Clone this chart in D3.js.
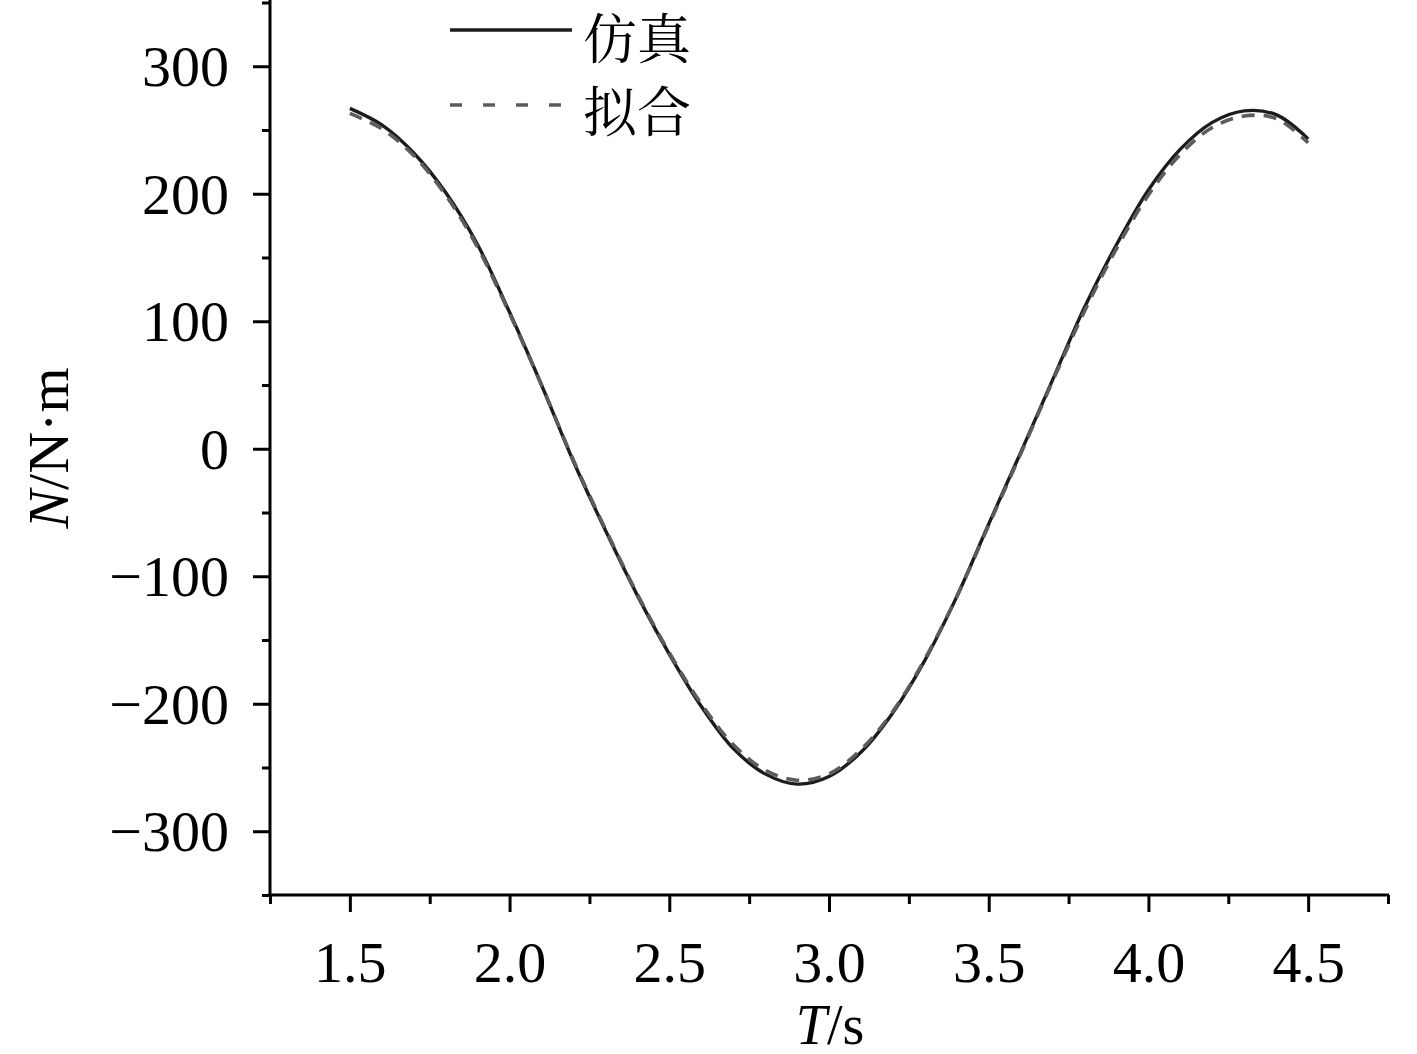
<!DOCTYPE html>
<html><head><meta charset="utf-8">
<script src="https://cdn.jsdelivr.net/npm/d3@7"></script>
<style>body{margin:0;background:#fff}svg{display:block}</style>
</head><body><svg id="c" width="1417" height="1054"></svg>
<script>
const times = [1.5,1.6,1.7,1.8,1.9,2.0,2.1,2.2,2.3,2.4,2.5,2.6,2.7,2.8,2.9,3.0,3.1,3.2,3.3,3.4,3.5,3.6,3.7,3.8,3.9,4.0,4.1,4.2,4.3,4.4,4.5];
const simValues = [267,254,232,201,160,107,50,-10,-64,-115,-161,-202,-235,-255,-263,-257,-238,-207,-166,-116,-59,-3,54,111,160,203,235,256,265,262,243];
const fitValues = [263,251,230,199,158,106,50,-9,-63,-114,-160,-200,-232,-252,-260,-255,-236,-206,-165,-116,-60,-4,53,108,157,199,231,252,261,259,240];
const xTicks = [1.5,2.0,2.5,3.0,3.5,4.0,4.5];
const xMinor = [1.25,1.75,2.25,2.75,3.25,3.75,4.25,4.75];
const yTicks = [-300,-200,-100,0,100,200,300];
const yMinor = [-350,-250,-150,-50,50,150,250,350];
const legendLabels = ["仿真","拟合"];

const svg = d3.select("#c");
const x = d3.scaleLinear().domain([1.25,4.75]).range([270,1388]);
const y = d3.scaleLinear().domain([-350,350]).range([895,2.5]);
const serif = "'Liberation Serif','Times New Roman',serif";

// y axis minor
svg.append("g").attr("transform","translate(270,0)")
  .call(d3.axisLeft(y).tickValues(yMinor).tickSize(8).tickFormat(""))
  .call(g=>{g.select(".domain").remove();g.selectAll("line").attr("stroke","#000").attr("stroke-width",3);});
// y axis major
const ya = svg.append("g").attr("transform","translate(270,0)")
  .call(d3.axisLeft(y).tickValues(yTicks).tickSize(17).tickPadding(24).tickFormat(d3.format("d")));
ya.select(".domain").remove();
ya.selectAll("line").attr("stroke","#000").attr("stroke-width",3);
ya.selectAll("text").attr("font-family",serif).attr("font-size",58).attr("fill","#000").attr("dy","0.34em");

// x axis minor
svg.append("g").attr("transform","translate(0,895)")
  .call(d3.axisBottom(x).tickValues(xMinor).tickSize(9).tickFormat(""))
  .call(g=>{g.select(".domain").remove();g.selectAll("line").attr("stroke","#000").attr("stroke-width",3);});
const xa = svg.append("g").attr("transform","translate(0,895)")
  .call(d3.axisBottom(x).tickValues(xTicks).tickSize(17).tickFormat(d3.format(".1f")));
xa.select(".domain").remove();
xa.selectAll("line").attr("stroke","#000").attr("stroke-width",3);
xa.selectAll("text").attr("font-family",serif).attr("font-size",58).attr("fill","#000").attr("y",87).attr("dy",0);

// axis lines
svg.append("line").attr("x1",270).attr("x2",270).attr("y1",0).attr("y2",896.5).attr("stroke","#000").attr("stroke-width",3);
svg.append("line").attr("x1",268.5).attr("x2",1389).attr("y1",895).attr("y2",895).attr("stroke","#000").attr("stroke-width",3);

// lines
const line = d3.line().x(d=>x(d[0])).y(d=>y(d[1])).curve(d3.curveCatmullRom.alpha(0.5));
svg.append("path").datum(times.map((t,i)=>[t,simValues[i]]))
  .attr("d",line).attr("fill","none").attr("stroke","#1c1c1c").attr("stroke-width",3.4);
svg.append("path").datum(times.map((t,i)=>[t,fitValues[i]]))
  .attr("d",line).attr("fill","none").attr("stroke","#5c5c5c").attr("stroke-width",3.6).attr("stroke-dasharray","13,9");

// legend
const lg = svg.append("g");
lg.append("line").attr("x1",450).attr("x2",572).attr("y1",30).attr("y2",30).attr("stroke","#1c1c1c").attr("stroke-width",3.4);
lg.append("line").attr("x1",450).attr("x2",572).attr("y1",105).attr("y2",105).attr("stroke","#5c5c5c").attr("stroke-width",3.6).attr("stroke-dasharray","12,21");
lg.selectAll("text").data(legendLabels).join("text")
  .attr("x",583).attr("y",(d,i)=>35+i*73).attr("dominant-baseline","central")
  .attr("font-family","'Noto Serif CJK SC','Noto Sans CJK SC',sans-serif").attr("font-size",54).attr("fill","#000")
  .text(d=>d);

// axis titles
const xt = svg.append("text").attr("x",830).attr("y",1044).attr("text-anchor","middle")
  .attr("font-family",serif).attr("font-size",56).attr("fill","#000");
xt.append("tspan").attr("font-style","italic").text("T");
xt.append("tspan").text("/s");
const yt = svg.append("text").attr("transform","translate(68,448) rotate(-90)").attr("text-anchor","middle")
  .attr("font-family",serif).attr("font-size",58).attr("fill","#000");
yt.append("tspan").attr("font-style","italic").text("N");
yt.append("tspan").text("/N·m");
</script></body></html>
